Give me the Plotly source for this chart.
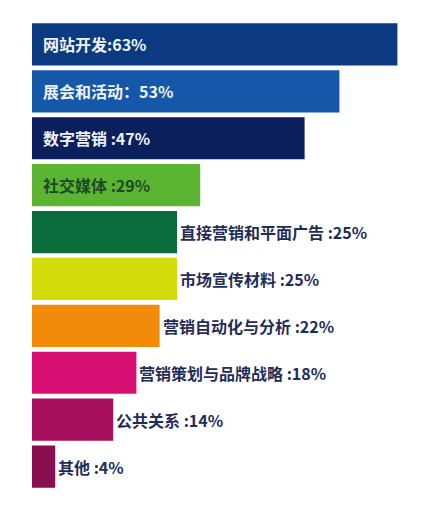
import plotly.graph_objects as go

# --------------------------------------------------------------------------

categories = [
    "网站开发", "展会和活动", "数字营销", "社交媒体", "直接营销和平面广告",
    "市场宣传材料", "营销自动化与分析", "营销策划与品牌战略", "公共关系", "其他",
]
shares = [63, 53, 47, 29, 25, 25, 22, 18, 14, 4]
separators = [":", "：", " :", " :", " :", " :", " :", " :", " :", " :"]

bar_colors = [
    "#0c3a80", "#1558aa", "#0a1f5c", "#5cb532", "#0a6b3b",
    "#d3dc08", "#f28a0a", "#d80f73", "#a60d5c", "#890e50",
]
# label inside the bar for the top four, outside for the rest
inside = [True, True, True, True, False, False, False, False, False, False]
inside_text_colors = ["#eef3fb", "#eef3fb", "#eef3fb", "#1d4a26"]
outside_text_color = "#1f2d5a"

FONT = "Noto Sans CJK SC"

# --------------------------------------------------------------------------

fig = go.Figure(
    go.Bar(
        x=shares,
        y=categories,
        orientation="h",
        marker=dict(color=bar_colors, line=dict(width=0)),
        hoverinfo="skip",
    )
)

for i, (cat, val, sep) in enumerate(zip(categories, shares, separators)):
    label = f"<b>{cat}{sep}{val}%</b>"
    if inside[i]:
        fig.add_annotation(
            x=0, y=cat, text=label, showarrow=False,
            xanchor="left", xshift=9,
            font=dict(family=FONT, size=16, color=inside_text_colors[i]),
        )
    else:
        fig.add_annotation(
            x=val, y=cat, text=label, showarrow=False,
            xanchor="left", xshift=1,
            font=dict(family=FONT, size=16, color=outside_text_color),
        )

# page body adds an 8px offset, so the figure is a bit smaller than the window
fig.update_layout(
    width=430,
    height=497,
    margin=dict(l=24, r=0, t=13, b=15),
    paper_bgcolor="white",
    plot_bgcolor="white",
    bargap=0.1,
    showlegend=False,
    font=dict(family=FONT),
    xaxis=dict(range=[0, 70], visible=False, fixedrange=True),
    yaxis=dict(autorange="reversed", visible=False, fixedrange=True),
)

fig.write_html("out.html")
